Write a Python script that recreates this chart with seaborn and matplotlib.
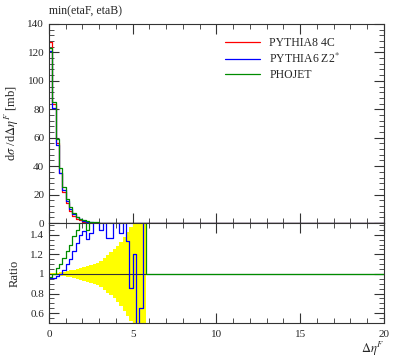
import numpy as np
import matplotlib
matplotlib.use("Agg")
import matplotlib.pyplot as plt
import seaborn as sns
from matplotlib.ticker import MultipleLocator, FixedLocator, FuncFormatter

# binning: 0.2 wide bins from 0 to 20
edges = np.linspace(0, 20, 101)

# dsigma/dDeta (mb), first 29 bins (0 - 5.8), zero afterwards
pythia8 = [127, 84, 56, 35, 22, 14, 8.6, 5.2, 3.1, 1.8, 1.05, 0.6, 0.34, 0.2, 0.12,
           0.07, 0.045, 0.03, 0.02, 0.012, 0.008, 0.005, 0.003, 0.002, 0.0015, 0.001,
           0.0008, 0.0005, 0.0003]
pythia6 = [121, 81, 55, 35, 23, 15.4, 9.9, 6.4, 4.1, 2.5, 1.5, 0.85, 0.5, 0.3, 0.18,
           0.1, 0.06, 0.04, 0.025, 0.015, 0.01, 0.006, 0.004, 0.003, 0.002, 0.001,
           0.0005, 0.0003, 0.0004]
phojet = [123, 85, 59, 38.5, 25.5, 17, 11, 7.1, 4.5, 2.9, 1.8, 1.1, 0.9, 0.7, 0.5,
          0.35, 0.25, 0.15, 0.1, 0.06, 0.04, 0.025, 0.015, 0.01, 0.006, 0.004,
          0.003, 0.002, 0.001]

# ratio to PYTHIA8 4C
ratio_pythia6 = [0.955, 0.96, 0.975, 1.0, 1.045, 1.1, 1.15, 1.23, 1.32, 1.4, 1.44, 1.36,
                 1.42, 1.6, 1.6, 1.45, 1.6, 1.37, 1.37, 1.6, 1.6, 1.42, 1.6, 1.34, 0.86,
                 1.2, 0.3, 0.65, 1.6]
ratio_phojet = [0.97, 1.0, 1.06, 1.1, 1.16, 1.23, 1.3, 1.39, 1.45, 1.6, 1.6, 1.45] + \
               [1.6] * 17 + [1.0] * 71
# relative stat. uncertainty of the reference (yellow band)
band_err = [0.008, 0.01, 0.013, 0.017, 0.022, 0.03, 0.036, 0.045, 0.055, 0.065, 0.075,
            0.085, 0.095, 0.105, 0.115, 0.13, 0.16, 0.19, 0.22, 0.25, 0.29, 0.33, 0.38,
            0.43, 0.48, 0.55, 0.62, 0.7, 0.8]

labels = ["PYTHIA8 4C", "PYTHIA6 Z2$^{*}$", "PHOJET"]
colors = ["#ff0000", "#0000ff", "#008c00"]


def pad(vals, n=100, fill=0.0):
    v = np.full(n, fill, dtype=float)
    v[:len(vals)] = vals
    return v


def steps(vals):
    vals = np.asarray(vals, dtype=float)
    return np.append(vals, vals[-1])


sns.set_style("ticks")
plt.rcParams["font.family"] = ["Liberation Serif", "DejaVu Serif"]
plt.rcParams["mathtext.fontset"] = "stix"

fig = plt.figure(figsize=(3.97, 3.58), dpi=100)
ax = fig.add_axes([0.1234, 0.377, 0.8438, 0.556])
axr = fig.add_axes([0.1234, 0.098, 0.8438, 0.279], sharex=ax)

# main panel
for vals, lab, col in zip([pythia8, pythia6, phojet], labels, colors):
    sns.lineplot(x=edges, y=steps(pad(vals)), drawstyle="steps-post", color=col,
                 lw=0.9, label=lab, ax=ax, estimator=None)
ax.set_xlim(0, 20)
ax.set_ylim(0, 140)
ax.yaxis.set_major_locator(MultipleLocator(20))
ax.yaxis.set_minor_locator(MultipleLocator(4))
ax.set_ylabel(r"d$\sigma$ /d$\Delta\eta^F$ [mb]", fontsize=9)
ax.tick_params(labelbottom=False)
ax.legend(loc="upper left", bbox_to_anchor=(0.51, 0.96), frameon=False, fontsize=8.5,
          handlelength=3.0, labelspacing=0.25, borderaxespad=0)
ax.set_title("min(etaF, etaB)", loc="left", fontsize=8.5, pad=7)

# ratio panel
nb = len(band_err)
err = np.asarray(band_err)
axr.fill_between(edges[:nb + 1], steps(1 - err), steps(1 + err), step="post",
                 color="#ffff00", lw=0)
axr.axhline(1.0, color="#333333", lw=0.8)
sns.lineplot(x=edges[:len(ratio_pythia6) + 1], y=steps(ratio_pythia6),
             drawstyle="steps-post", color=colors[1], lw=0.9, ax=axr, estimator=None)
sns.lineplot(x=edges, y=steps(ratio_phojet), drawstyle="steps-post", color=colors[2],
             lw=0.9, ax=axr, estimator=None)
axr.set_ylim(0.5, 1.52)
axr.yaxis.set_major_locator(FixedLocator([0.6, 0.8, 1.0, 1.2, 1.4]))
axr.yaxis.set_minor_locator(MultipleLocator(0.05))
axr.yaxis.set_major_formatter(FuncFormatter(lambda v, p: "%g" % v))
axr.xaxis.set_major_locator(MultipleLocator(5))
axr.xaxis.set_minor_locator(MultipleLocator(1))
axr.set_ylabel("Ratio", fontsize=9)
axr.set_xlabel(r"$\Delta\eta^F$", fontsize=9, ha="right")

for a in (ax, axr):
    a.tick_params(which="both", direction="in", top=True, right=True,
                  color="#333333", labelsize=8)
    a.tick_params(which="major", length=7, width=0.8)
    a.tick_params(which="minor", length=3.5, width=0.6)
    for s in a.spines.values():
        s.set_color("#333333")
        s.set_linewidth(0.8)
axr.tick_params(axis="x", pad=5)
ax.yaxis.set_label_coords(-0.085, 0.5)
axr.yaxis.set_label_coords(-0.085, 0.5)
axr.xaxis.set_label_coords(1.0, -0.17)

fig.savefig("out.png", dpi=100)
